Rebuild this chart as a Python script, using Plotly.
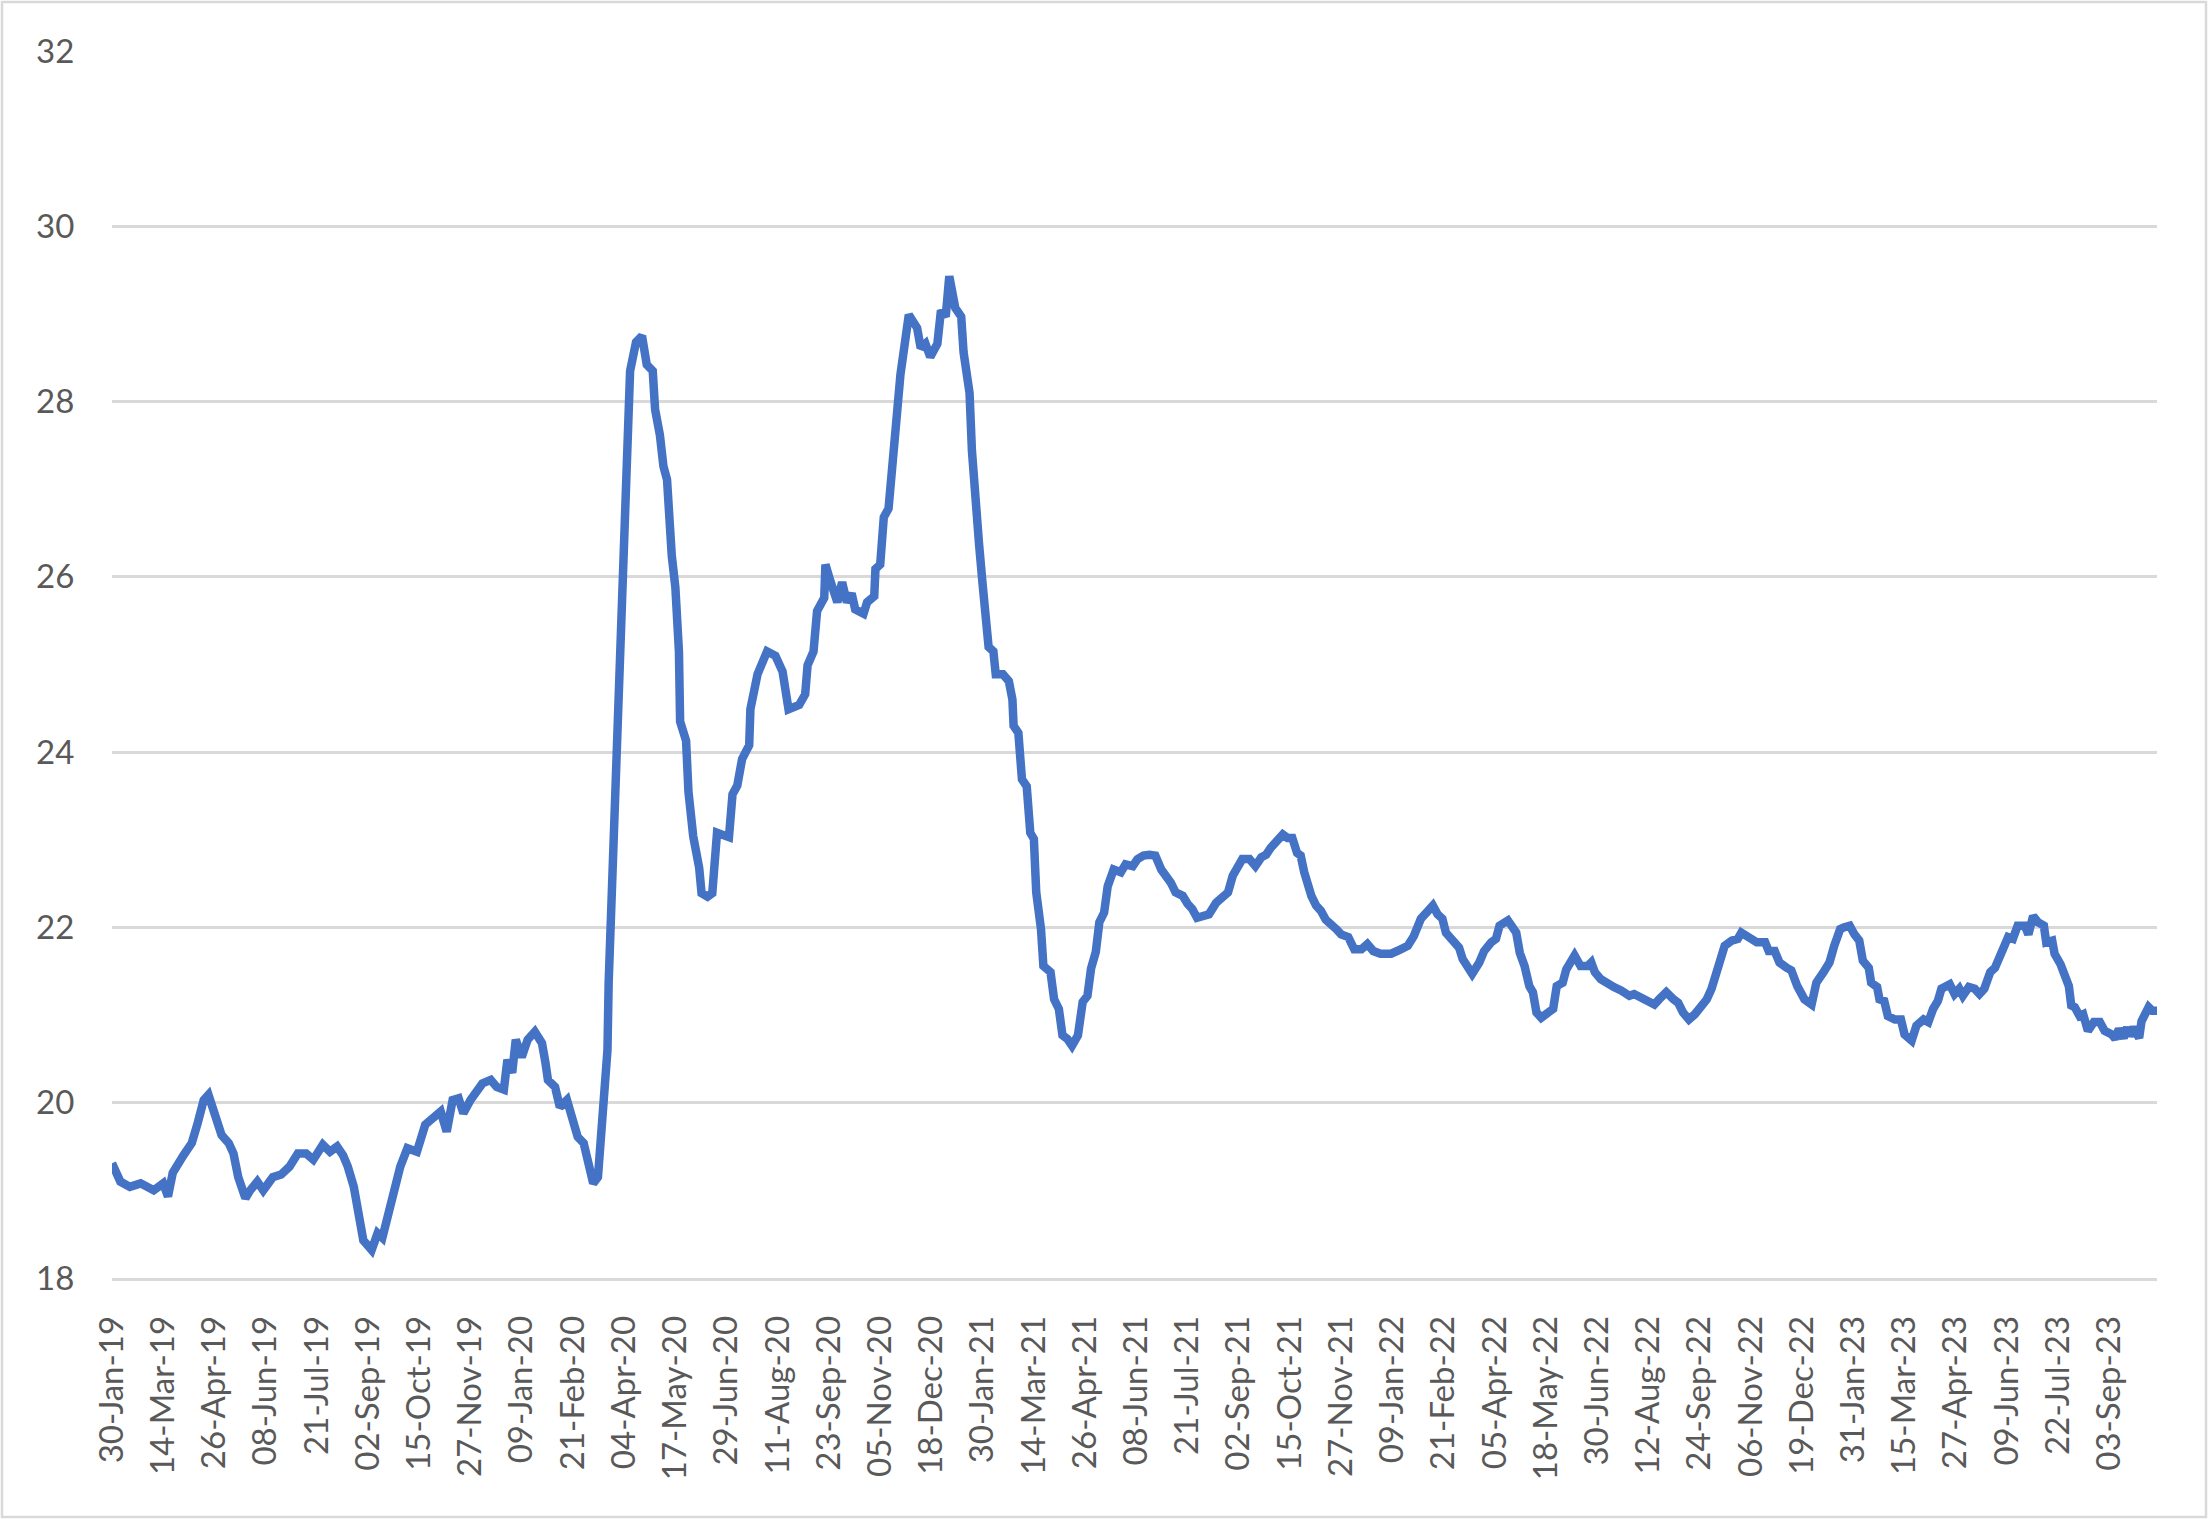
import pandas as pd
import plotly.graph_objects as go

# series: day offset from the first date, and value
start_date = "2019-01-30"
day_offset = [
    0, 7, 15, 24, 35, 43, 47, 51, 60, 67, 72, 77, 81, 87, 92, 98, 102, 106, 112, 116,
    122, 127, 135, 142, 149, 156, 163, 169, 177, 183, 189, 194, 198, 203, 207, 211, 218, 223, 227, 231,
    236, 242, 248, 256, 263, 270, 276, 281, 286, 291, 295, 301, 305, 311, 318, 323, 329, 332, 336, 339,
    344, 349, 355, 361, 364, 366, 372, 376, 382, 386, 391, 396, 400, 404, 408, 410, 413, 416, 417, 421,
    424, 428, 431, 435, 440, 445, 449, 454, 456, 460, 463, 466, 470, 473, 476, 477, 482, 484, 488, 493,
    495, 500, 504, 508, 518, 521, 525, 529, 535, 536, 542, 550, 557, 563, 568, 577, 582, 584, 589, 592,
    598, 599, 603, 609, 613, 617, 621, 624, 631, 634, 640, 641, 645, 648, 652, 655, 659, 662, 666, 669,
    676, 679, 683, 687, 693, 696, 700, 703, 708, 713, 715, 720, 722, 725, 728, 731, 734, 736, 740, 742,
    748, 753, 756, 757, 761, 764, 768, 771, 774, 776, 780, 782, 788, 791, 795, 798, 802, 806, 811, 815,
    819, 822, 826, 829, 833, 836, 841, 847, 851, 857, 861, 866, 871, 876, 881, 885, 889, 893, 899, 903,
    907, 911, 917, 921, 927, 933, 937, 941, 945, 949, 955, 960, 965, 969, 973, 979, 983, 987, 991, 995,
    998, 1001, 1004, 1007, 1011, 1015, 1019, 1024, 1028, 1032, 1038, 1043, 1049, 1054, 1059, 1065, 1074, 1082, 1088, 1093,
    1099, 1105, 1109, 1113, 1117, 1120, 1125, 1131, 1134, 1138, 1142, 1148, 1152, 1158, 1162, 1165, 1172, 1176, 1179, 1182,
    1186, 1190, 1193, 1196, 1200, 1206, 1210, 1213, 1218, 1221, 1225, 1228, 1233, 1239, 1242, 1245, 1250, 1256, 1261, 1267,
    1274, 1278, 1284, 1290, 1295, 1299, 1305, 1311, 1315, 1319, 1324, 1329, 1334, 1339, 1343, 1347, 1350, 1354, 1360, 1365,
    1368, 1374, 1381, 1388, 1391, 1396, 1400, 1406, 1410, 1415, 1421, 1427, 1431, 1437, 1442, 1446, 1451, 1454, 1459, 1463,
    1467, 1470, 1475, 1477, 1482, 1484, 1488, 1491, 1497, 1502, 1505, 1511, 1515, 1521, 1525, 1529, 1533, 1536, 1543, 1547,
    1551, 1554, 1559, 1564, 1568, 1572, 1577, 1581, 1585, 1589, 1592, 1596, 1600, 1606, 1609, 1613, 1617, 1622, 1624, 1629,
    1631, 1636, 1639, 1643, 1645, 1648, 1652, 1655, 1659, 1664, 1669, 1673, 1679, 1682, 1685, 1689, 1692, 1694, 1697, 1702,
    1704, 1710, 1713, 1717,
]
values = [
    19.31, 19.10, 19.04, 19.08, 19.00, 19.08, 18.93, 19.20, 19.40, 19.54, 19.77, 20.03, 20.09, 19.84, 19.63, 19.54, 19.42, 19.15, 18.91, 19.00,
    19.10, 19.00, 19.15, 19.18, 19.27, 19.42, 19.42, 19.35, 19.52, 19.44, 19.50, 19.40, 19.27, 19.04, 18.78, 18.43, 18.32, 18.51, 18.46, 18.70,
    18.97, 19.27, 19.48, 19.44, 19.75, 19.84, 19.90, 19.67, 20.03, 20.05, 19.88, 20.03, 20.11, 20.22, 20.26, 20.18, 20.15, 20.49, 20.34, 20.72,
    20.52, 20.72, 20.81, 20.68, 20.45, 20.26, 20.18, 19.95, 20.03, 19.84, 19.61, 19.54, 19.27, 19.08, 19.15, 19.54, 19.88, 20.60, 21.37, 22.82,
    24.28, 25.73, 26.82, 28.35, 28.68, 28.75, 28.42, 28.35, 27.91, 27.62, 27.26, 27.11, 26.24, 25.88, 25.15, 24.35, 24.13, 23.55, 23.04, 22.68,
    22.39, 22.35, 22.39, 23.08, 23.03, 23.52, 23.62, 23.92, 24.08, 24.49, 24.89, 25.15, 25.10, 24.92, 24.49, 24.54, 24.66, 24.99, 25.15, 25.61,
    25.76, 26.14, 25.96, 25.71, 25.94, 25.71, 25.81, 25.63, 25.58, 25.71, 25.78, 26.09, 26.14, 26.68, 26.78, 27.39, 27.85, 28.31, 28.82, 28.99,
    28.84, 28.61, 28.66, 28.51, 28.66, 29.04, 28.97, 29.43, 29.07, 28.97, 28.56, 28.10, 27.44, 26.68, 26.37, 25.91, 25.40, 25.20, 25.15, 24.89,
    24.89, 24.81, 24.60, 24.30, 24.22, 23.69, 23.61, 23.08, 23.01, 22.40, 21.98, 21.56, 21.49, 21.18, 21.07, 20.77, 20.73, 20.65, 20.77, 21.15,
    21.22, 21.53, 21.72, 22.06, 22.17, 22.47, 22.66, 22.63, 22.72, 22.70, 22.78, 22.82, 22.83, 22.82, 22.66, 22.59, 22.51, 22.40, 22.36, 22.27,
    22.21, 22.11, 22.13, 22.15, 22.28, 22.34, 22.40, 22.59, 22.70, 22.78, 22.78, 22.70, 22.80, 22.83, 22.91, 23.01, 23.06, 23.02, 23.02, 22.85,
    22.82, 22.63, 22.47, 22.36, 22.25, 22.19, 22.09, 22.04, 21.98, 21.92, 21.89, 21.75, 21.75, 21.81, 21.73, 21.70, 21.70, 21.75, 21.79, 21.90,
    22.10, 22.19, 22.25, 22.15, 22.10, 21.94, 21.87, 21.77, 21.64, 21.56, 21.47, 21.60, 21.73, 21.83, 21.87, 22.02, 22.08, 22.00, 21.94, 21.71,
    21.56, 21.33, 21.26, 21.03, 20.97, 21.03, 21.07, 21.33, 21.37, 21.52, 21.64, 21.68, 21.56, 21.56, 21.60, 21.49, 21.41, 21.35, 21.32, 21.28,
    21.22, 21.24, 21.20, 21.14, 21.12, 21.18, 21.26, 21.18, 21.14, 21.03, 20.95, 21.01, 21.09, 21.18, 21.30, 21.49, 21.64, 21.79, 21.85, 21.87,
    21.94, 21.90, 21.83, 21.83, 21.73, 21.73, 21.60, 21.54, 21.51, 21.33, 21.18, 21.12, 21.37, 21.49, 21.60, 21.79, 21.98, 22.00, 22.02, 21.92,
    21.85, 21.62, 21.54, 21.37, 21.32, 21.18, 21.16, 20.99, 20.95, 20.95, 20.78, 20.71, 20.88, 20.95, 20.92, 21.07, 21.16, 21.30, 21.35, 21.24,
    21.30, 21.22, 21.32, 21.30, 21.24, 21.30, 21.49, 21.54, 21.66, 21.77, 21.89, 21.87, 22.02, 22.02, 21.92, 22.13, 22.06, 22.02, 21.83, 21.85,
    21.70, 21.58, 21.45, 21.33, 21.11, 21.09, 20.99, 21.01, 20.82, 20.92, 20.92, 20.82, 20.78, 20.73, 20.84, 20.74, 20.86, 20.76, 20.86, 20.74,
    20.93, 21.09, 21.05, 21.05,
]

# x tick labels (every 43 days)
tick_dates = [
    "2019-01-30", "2019-03-14", "2019-04-26", "2019-06-08", "2019-07-21", "2019-09-02", "2019-10-15", "2019-11-27",
    "2020-01-09", "2020-02-21", "2020-04-04", "2020-05-17", "2020-06-29", "2020-08-11", "2020-09-23", "2020-11-05",
    "2020-12-18", "2021-01-30", "2021-03-14", "2021-04-26", "2021-06-08", "2021-07-21", "2021-09-02", "2021-10-15",
    "2021-11-27", "2022-01-09", "2022-02-21", "2022-04-05", "2022-05-18", "2022-06-30", "2022-08-12", "2022-09-24",
    "2022-11-06", "2022-12-19", "2023-01-31", "2023-03-15", "2023-04-27", "2023-06-09", "2023-07-22", "2023-09-03",
]

dates = pd.to_datetime(start_date) + pd.to_timedelta(day_offset, unit="D")

grey = "#595959"
grid = "#D9D9D9"

fig = go.Figure()
fig.add_trace(go.Scatter(
    x=dates, y=values, mode="lines",
    line=dict(color="#4472C4", width=8.5),
    showlegend=False,
))

W, H = 2208, 1519
ml, mr, mt, mb = 112, 51, 51, 241
pw, ph = W - ml - mr, H - mt - mb

fig.update_layout(
    width=W, height=H,
    margin=dict(l=ml, r=mr, t=mt, b=mb),
    paper_bgcolor="white", plot_bgcolor="white",
    font=dict(family="Lato, Carlito, sans-serif", size=33, color=grey),
    shapes=[dict(
        type="rect", xref="paper", yref="paper",
        x0=(2 - ml) / pw, x1=(W - 2 - ml) / pw,
        y0=-(mb - 2) / ph, y1=1 + (mt - 2) / ph,
        line=dict(color=grid, width=2.5), layer="below",
    )],
)
fig.update_xaxes(
    type="date",
    range=[dates[0], dates[-1]],
    tickvals=tick_dates,
    tickformat="%d-%b-%y",
    tickangle=-90,
    showgrid=False,
    showline=True, linecolor=grid, linewidth=2.5,
    ticks="outside", ticklen=22, tickcolor="rgba(0,0,0,0)",
    zeroline=False,
)
fig.update_yaxes(
    range=[18, 32],
    dtick=2,
    showgrid=True, gridcolor=grid, gridwidth=2.5,
    zeroline=False, showline=False,
    ticks="outside", ticklen=30, tickcolor="rgba(0,0,0,0)",
)

fig.write_html(
    "out.html",
    config={"displayModeBar": False},
    post_script="document.body.style.margin='0';document.body.style.overflow='hidden';",
)
